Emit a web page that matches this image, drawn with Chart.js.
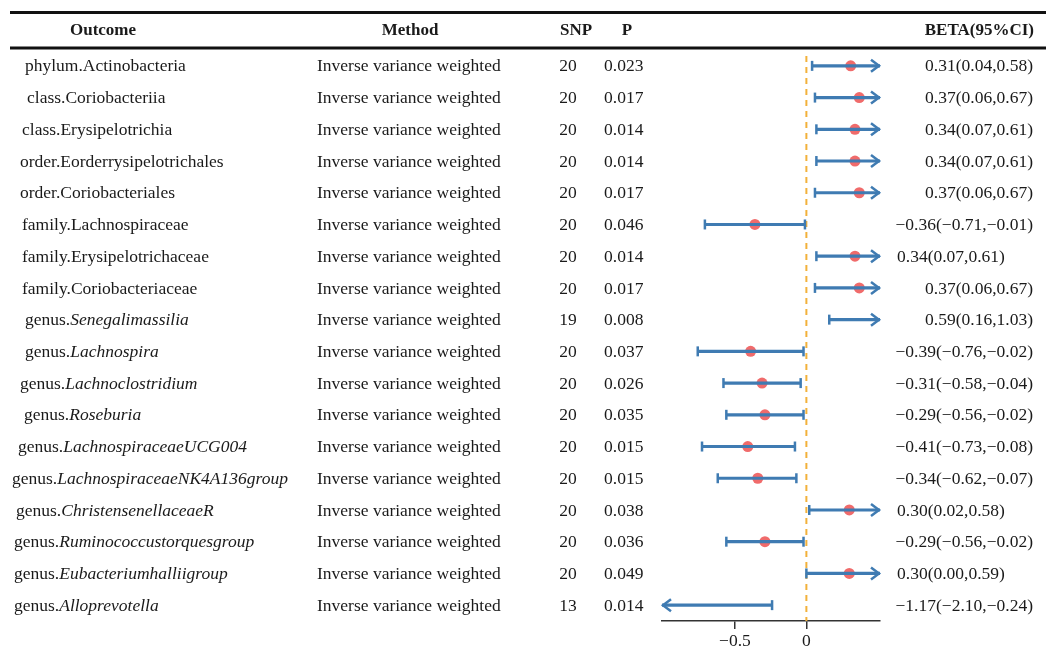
<!DOCTYPE html>
<html>
<head>
<meta charset="utf-8">
<script src="https://cdn.jsdelivr.net/npm/chart.js@4.4.0/dist/chart.umd.min.js"></script>
<style>
  html, body { margin: 0; padding: 0; background: #ffffff; overflow: hidden; }
  #wrap { width: 1046px; height: 648px; position: relative; }
</style>
</head>
<body>
<div id="wrap"><canvas id="forest" width="1046" height="648"></canvas></div>
<script>
// Datos de la tabla
const taxRank = ['phylum.', 'class.', 'class.', 'order.', 'order.', 'family.', 'family.', 'family.',
  'genus.', 'genus.', 'genus.', 'genus.', 'genus.', 'genus.', 'genus.', 'genus.', 'genus.', 'genus.'];
const taxName = ['Actinobacteria', 'Coriobacteriia', 'Erysipelotrichia', 'Eorderrysipelotrichales',
  'Coriobacteriales', 'Lachnospiraceae', 'Erysipelotrichaceae', 'Coriobacteriaceae',
  'Senegalimassilia', 'Lachnospira', 'Lachnoclostridium', 'Roseburia', 'LachnospiraceaeUCG004',
  'LachnospiraceaeNK4A136group', 'ChristensenellaceaeR', 'Ruminococcustorquesgroup',
  'Eubacteriumhalliigroup', 'Alloprevotella'];
const method = 'Inverse variance weighted';
const snp = [20, 20, 20, 20, 20, 20, 20, 20, 19, 20, 20, 20, 20, 20, 20, 20, 20, 13];
const pValue = ['0.023', '0.017', '0.014', '0.014', '0.017', '0.046', '0.014', '0.017', '0.008',
  '0.037', '0.026', '0.035', '0.015', '0.015', '0.038', '0.036', '0.049', '0.014'];
const beta = [0.31, 0.37, 0.34, 0.34, 0.37, -0.36, 0.34, 0.37, 0.59, -0.39, -0.31, -0.29, -0.41,
  -0.34, 0.30, -0.29, 0.30, -1.17];
const ciLow = [0.04, 0.06, 0.07, 0.07, 0.06, -0.71, 0.07, 0.06, 0.16, -0.76, -0.58, -0.56, -0.73,
  -0.62, 0.02, -0.56, 0.00, -2.10];
const ciHigh = [0.58, 0.67, 0.61, 0.61, 0.67, -0.01, 0.61, 0.67, 1.03, -0.02, -0.04, -0.02, -0.08,
  -0.07, 0.58, -0.02, 0.59, -0.24];
const xTicks = [-0.5, 0];
const headers = ['Outcome', 'Method', 'SNP', 'P', 'BETA(95%CI)'];

// filas cuyo texto BETA va pegado a la flecha (como en la figura)
const betaLeftRows = [6, 14, 16];
// sangría de la columna Outcome, fila por fila (la figura no la alinea igual)
const outcomeIndent = [25, 27, 22, 20, 20, 22, 22, 22, 25, 25, 20, 24, 18, 12, 16, 14, 14, 14];

const serif = '"Liberation Serif", "Times New Roman", serif';
const azul = '#3f7bb2';
const rojo = '#f06b6b';
const naranja = '#f2b13a';
const texto = '#1a1a1a';

function fmt(v) {
    return v.toFixed(2).replace('-', '\u2212');
}

const filas = beta.map((b, i) => i);

// Plugin: tabla, línea de referencia, topes y flechas
const forestPlugin = {
    id: 'forest',
    beforeDatasetsDraw(chart) {
        const { ctx, chartArea, scales } = chart;
        const x0 = scales.x.getPixelForValue(0);
        ctx.save();
        ctx.strokeStyle = naranja;
        ctx.lineWidth = 2;
        ctx.setLineDash([6, 5]);
        ctx.beginPath();
        ctx.moveTo(x0, chartArea.top + 6);
        ctx.lineTo(x0, chartArea.bottom);
        ctx.stroke();
        ctx.restore();
    },
    afterDatasetsDraw(chart) {
        const { ctx, scales } = chart;
        const xs = scales.x, ys = scales.y;
        ctx.save();
        ctx.strokeStyle = azul;
        ctx.lineWidth = 2.5;
        filas.forEach(i => {
            const y = ys.getPixelForValue(i);
            // extremo inferior
            if (ciLow[i] >= xs.min) {
                const px = xs.getPixelForValue(ciLow[i]);
                ctx.beginPath(); ctx.moveTo(px, y - 5); ctx.lineTo(px, y + 5); ctx.stroke();
            } else {
                const px = xs.getPixelForValue(xs.min);
                ctx.beginPath(); ctx.moveTo(px + 9, y - 6); ctx.lineTo(px + 1, y); ctx.lineTo(px + 9, y + 6); ctx.stroke();
            }
            // extremo superior
            if (ciHigh[i] <= xs.max) {
                const px = xs.getPixelForValue(ciHigh[i]);
                ctx.beginPath(); ctx.moveTo(px, y - 5); ctx.lineTo(px, y + 5); ctx.stroke();
            } else {
                const px = xs.getPixelForValue(xs.max);
                ctx.beginPath(); ctx.moveTo(px - 9, y - 6); ctx.lineTo(px - 1, y); ctx.lineTo(px - 9, y + 6); ctx.stroke();
            }
        });
        ctx.restore();
    },
    afterDraw(chart) {
        const { ctx, scales } = chart;
        const ys = scales.y;
        const W = chart.width;
        ctx.save();
        // líneas de cabecera
        ctx.strokeStyle = '#111';
        ctx.lineWidth = 3;
        ctx.beginPath(); ctx.moveTo(10, 12.5); ctx.lineTo(W, 12.5); ctx.stroke();
        ctx.beginPath(); ctx.moveTo(10, 48); ctx.lineTo(W, 48); ctx.stroke();

        ctx.fillStyle = texto;
        ctx.textBaseline = 'middle';
        ctx.font = 'bold 17px ' + serif;
        const hy = 31;
        ctx.textAlign = 'center';
        ctx.fillText(headers[0], 103, hy);
        ctx.fillText(headers[1], 410, hy);
        ctx.fillText(headers[2], 576, hy);
        ctx.fillText(headers[3], 627, hy);
        ctx.textAlign = 'right';
        ctx.fillText(headers[4], 1034, hy);

        filas.forEach(i => {
            const y = ys.getPixelForValue(i) + 1;
            // Outcome
            ctx.textAlign = 'left';
            ctx.font = '17.5px ' + serif;
            const x1 = outcomeIndent[i];
            ctx.fillText(taxRank[i], x1, y);
            const w = ctx.measureText(taxRank[i]).width;
            ctx.font = (taxRank[i] === 'genus.' ? 'italic ' : '') + '17.5px ' + serif;
            ctx.fillText(taxName[i], x1 + w, y);
            ctx.font = '17.5px ' + serif;
            ctx.fillText(method, 317, y);
            ctx.textAlign = 'center';
            ctx.fillText(String(snp[i]), 568, y);
            ctx.textAlign = 'left';
            ctx.fillText(pValue[i], 604, y);
            const s = fmt(beta[i]) + '(' + fmt(ciLow[i]) + ',' + fmt(ciHigh[i]) + ')';
            if (betaLeftRows.includes(i)) {
                ctx.textAlign = 'left';
                ctx.fillText(s, 897, y);
            } else {
                ctx.textAlign = 'right';
                ctx.fillText(s, 1033, y);
            }
        });
        ctx.restore();
    }
};

new Chart(document.getElementById('forest'), {
    type: 'bar',
    data: {
        datasets: [
            {
                type: 'bar',
                indexAxis: 'y',
                data: filas.map(i => ({ x: [ciLow[i], ciHigh[i]], y: i })),
                backgroundColor: azul,
                borderWidth: 0,
                barThickness: 2.5,
                clip: 0
            },
            {
                type: 'scatter',
                data: filas.map(i => ({ x: beta[i], y: i })),
                backgroundColor: rojo,
                borderWidth: 0,
                pointRadius: 5.5,
                pointHoverRadius: 5.5,
                clip: 0
            }
        ]
    },
    options: {
        responsive: false,
        animation: false,
        indexAxis: 'y',
        layout: { padding: { left: 662, right: 166, top: 50, bottom: 0 } },
        plugins: {
            legend: { display: false },
            tooltip: { enabled: false }
        },
        scales: {
            x: {
                type: 'linear',
                min: -1.01,
                max: 0.515,
                offset: false,
                afterFit: s => { s.height = 27; },
                afterBuildTicks: s => { s.ticks = xTicks.map(v => ({ value: v })); },
                grid: { drawOnChartArea: false, drawTicks: true, tickLength: 8, color: '#333', lineWidth: 1.5, offset: false },
                border: { display: true, color: '#333', width: 1.5 },
                ticks: {
                    padding: 2,
                    color: texto,
                    font: { family: serif, size: 17.5 },
                    callback: v => String(v).replace('-', '\u2212')
                }
            },
            y: {
                type: 'linear',
                min: -0.5,
                max: 17.5,
                reverse: true,
                offset: false,
                grid: { offset: false },
                display: false
            }
        }
    },
    plugins: [forestPlugin]
});
</script>
</body>
</html>
